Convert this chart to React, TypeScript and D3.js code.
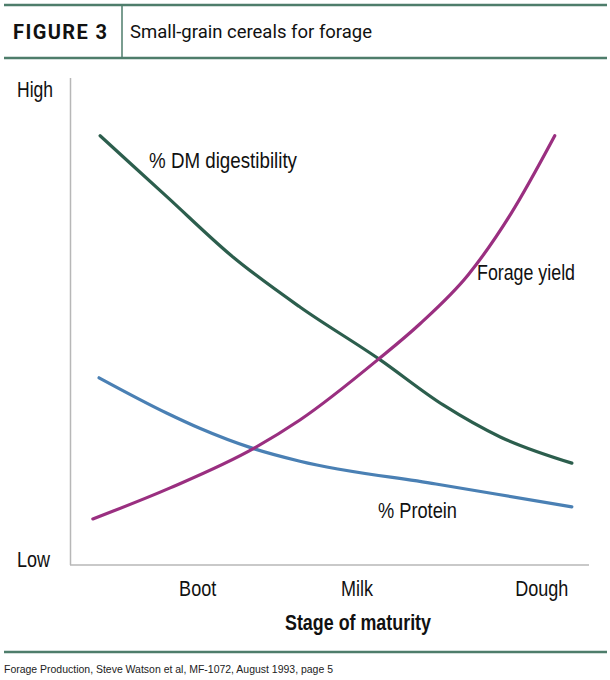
import React from "react";
import * as d3 from "d3";

// Growth stage on a 0–100 season scale; response on a 0–100 relative scale (Low → High)
const stageTicks = [24.6, 55.3, 90.9];
const stageLabels = ["Boot", "Milk", "Dough"];

const digestibilityX = [5.8, 18.6, 31.4, 44.3, 59.5, 71.9, 82.9, 96.7];
const digestibilityY = [88.5, 76.0, 63.5, 53.2, 42.5, 33.0, 26.4, 21.0];

const proteinX = [5.6, 18.7, 25.0, 35.1, 44.3, 70.5, 96.7];
const proteinY = [38.6, 31.3, 28.2, 24.1, 21.4, 16.7, 12.0];

const yieldX = [4.4, 19.3, 35.5, 44.3, 59.5, 67.4, 76.7, 85.0, 93.4];
const yieldY = [9.5, 15.9, 24.1, 29.9, 42.5, 49.7, 59.8, 72.5, 88.5];

const W = 610;
const H = 680;
const RULE = "#4e7d6b";
const AXIS = "#b7b7b7";
const NARROW = "'Liberation Sans', Arial, sans-serif";
const LABEL_SIZE = 21.5;

type Series = { name: string; xs: number[]; ys: number[]; color: string };

const series: Series[] = [
  { name: "digestibility", xs: digestibilityX, ys: digestibilityY, color: "#2c5e4d" },
  { name: "protein", xs: proteinX, ys: proteinY, color: "#4a80b4" },
  { name: "yield", xs: yieldX, ys: yieldY, color: "#9a2f80" },
];

export default function App() {
  const x = d3.scaleLinear().domain([0, 100]).range([70, 589]);
  const y = d3.scaleLinear().domain([0, 100]).range([565, 80]);

  const line = d3
    .line<[number, number]>()
    .x((d) => x(d[0]))
    .y((d) => y(d[1]))
    .curve(d3.curveMonotoneX);

  return (
    <svg
      width={W}
      height={H}
      viewBox={`0 0 ${W} ${H}`}
      style={{ position: "absolute", left: 0, top: 0, background: "#fff" }}
    >
      <rect width={W} height={H} fill="#fff" />

      {/* header band */}
      <line x1={4} x2={607} y1={5} y2={5} stroke={RULE} strokeWidth={2.5} />
      <line x1={4} x2={607} y1={58} y2={58} stroke={RULE} strokeWidth={2.5} />
      <line x1={122} x2={122} y1={5} y2={58} stroke={RULE} strokeWidth={1.5} />
      <text
        x={13}
        y={39}
        fontFamily="Roboto, 'Liberation Sans', sans-serif"
        fontWeight={700}
        fontSize={20}
        textLength={94}
        lengthAdjust="spacing"
        fill="#111"
      >
        FIGURE 3
      </text>
      <text
        x={130}
        y={38}
        fontFamily="Roboto, 'Liberation Sans', sans-serif"
        fontSize={18}
        textLength={242}
        lengthAdjust="spacingAndGlyphs"
        fill="#111"
      >
        Small-grain cereals for forage
      </text>

      {/* axes */}
      <line x1={x(0) + 0.5} x2={x(0) + 0.5} y1={78} y2={y(0)} stroke={AXIS} strokeWidth={1.5} />
      <line x1={x(0)} x2={x(100)} y1={y(0)} y2={y(0)} stroke={AXIS} strokeWidth={1.5} />

      <text x={17} y={97} fontFamily={NARROW} fontSize={LABEL_SIZE} textLength={36} lengthAdjust="spacingAndGlyphs" fill="#111">
        High
      </text>
      <text x={17} y={567} fontFamily={NARROW} fontSize={LABEL_SIZE} textLength={33} lengthAdjust="spacingAndGlyphs" fill="#111">
        Low
      </text>

      {stageTicks.map((t, i) => (
        <text
          key={stageLabels[i]}
          transform={`translate(${x(t)},596) scale(0.84,1)`}
          textAnchor="middle"
          fontFamily={NARROW}
          fontSize={LABEL_SIZE}
          fill="#111"
        >
          {stageLabels[i]}
        </text>
      ))}

      <text
        x={285}
        y={630}
        fontFamily={NARROW}
        fontWeight={700}
        fontSize={LABEL_SIZE}
        textLength={146}
        lengthAdjust="spacingAndGlyphs"
        fill="#111"
      >
        Stage of maturity
      </text>

      {/* response curves */}
      {series.map((s) => (
        <path
          key={s.name}
          d={line(s.xs.map((v, i) => [v, s.ys[i]] as [number, number])) ?? ""}
          fill="none"
          stroke={s.color}
          strokeWidth={3.2}
          strokeLinecap="round"
          strokeLinejoin="round"
        />
      ))}

      {/* curve labels */}
      <text x={149} y={168} fontFamily={NARROW} fontSize={LABEL_SIZE} textLength={148} lengthAdjust="spacingAndGlyphs" fill="#111">
        % DM digestibility
      </text>
      <text x={477} y={280} fontFamily={NARROW} fontSize={LABEL_SIZE} textLength={98} lengthAdjust="spacingAndGlyphs" fill="#111">
        Forage yield
      </text>
      <text x={378} y={518} fontFamily={NARROW} fontSize={LABEL_SIZE} textLength={79} lengthAdjust="spacingAndGlyphs" fill="#111">
        % Protein
      </text>

      {/* source line */}
      <line x1={4} x2={607} y1={652} y2={652} stroke={RULE} strokeWidth={2.5} />
      <text
        x={4}
        y={673}
        fontFamily="'Liberation Sans', Arial, sans-serif"
        fontSize={11}
        textLength={329}
        lengthAdjust="spacingAndGlyphs"
        fill="#222"
      >
        Forage Production, Steve Watson et al, MF-1072, August 1993, page 5
      </text>
    </svg>
  );
}
